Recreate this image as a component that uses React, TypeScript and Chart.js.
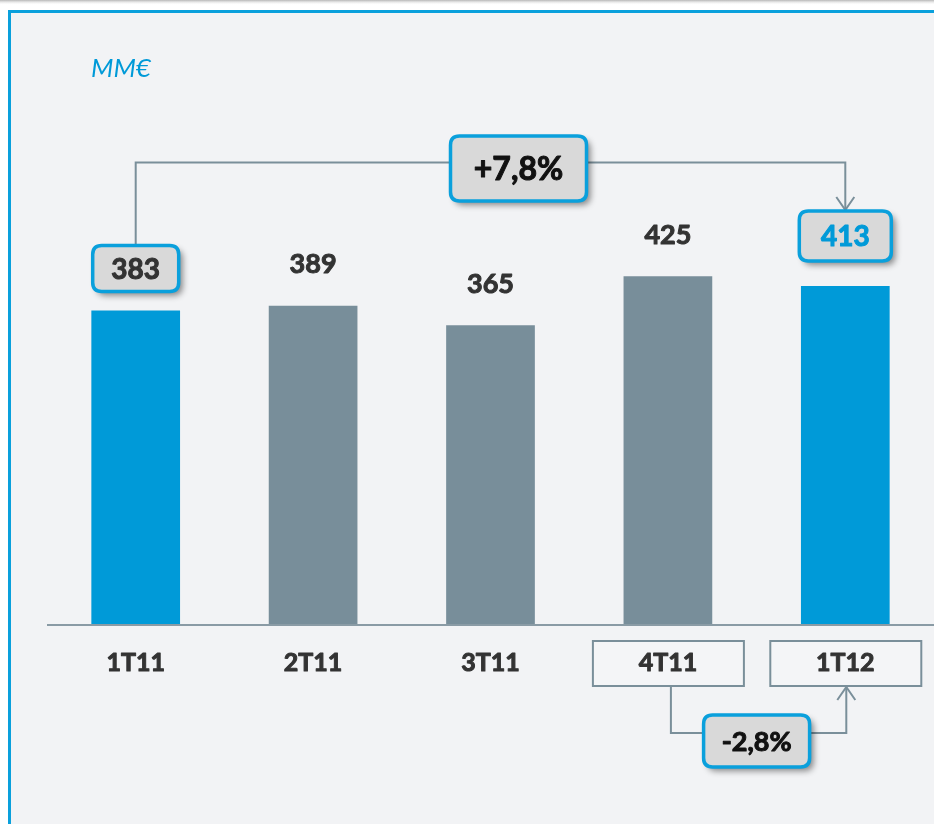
import React, { useEffect, useRef } from "react";
import { Chart, registerables } from "chart.js";

Chart.register(...registerables);

const categories = ["1T11", "2T11", "3T11", "4T11", "1T12"];
const values = [383, 389, 365, 425, 413];
const highlighted = [true, false, false, false, true];
const unitLabel = "MM€";
const yearChangeLabel = "+7,8%";
const quarterChangeLabel = "-2,8%";
const boxedCategories = ["4T11", "1T12"];

const BLUE = "#009ad8";
const GRAY = "#788e9a";
const LINE = "#7a8f9a";
const FONT = "Lato, 'Open Sans', sans-serif";

function roundRect(ctx: CanvasRenderingContext2D, x: number, y: number, w: number, h: number, r: number) {
  ctx.beginPath();
  ctx.moveTo(x + r, y);
  ctx.lineTo(x + w - r, y);
  ctx.quadraticCurveTo(x + w, y, x + w, y + r);
  ctx.lineTo(x + w, y + h - r);
  ctx.quadraticCurveTo(x + w, y + h, x + w - r, y + h);
  ctx.lineTo(x + r, y + h);
  ctx.quadraticCurveTo(x, y + h, x, y + h - r);
  ctx.lineTo(x, y + r);
  ctx.quadraticCurveTo(x, y, x + r, y);
  ctx.closePath();
}

function heavyText(ctx: CanvasRenderingContext2D, text: string, x: number, y: number, size: number, color: string) {
  ctx.save();
  ctx.fillStyle = color;
  ctx.strokeStyle = color;
  ctx.lineWidth = 1;
  ctx.lineJoin = "round";
  ctx.font = `bold ${size}px ${FONT}`;
  ctx.textAlign = "center";
  ctx.textBaseline = "middle";
  ctx.fillText(text, x, y);
  ctx.strokeText(text, x, y);
  ctx.restore();
}

function calloutBox(ctx: CanvasRenderingContext2D, cx: number, cy: number, w: number, h: number, text: string, size: number, color: string) {
  ctx.save();
  ctx.shadowColor = "rgba(0,0,0,0.45)";
  ctx.shadowBlur = 6;
  ctx.shadowOffsetX = 4;
  ctx.shadowOffsetY = 4;
  roundRect(ctx, cx - w / 2, cy - h / 2, w, h, 9);
  ctx.fillStyle = "#d9d9d9";
  ctx.fill();
  ctx.restore();
  ctx.save();
  roundRect(ctx, cx - w / 2, cy - h / 2, w, h, 9);
  ctx.strokeStyle = "#0aa0dc";
  ctx.lineWidth = 3.5;
  ctx.stroke();
  ctx.restore();
  heavyText(ctx, text, cx, cy + 1, size, color);
}

function arrowHead(ctx: CanvasRenderingContext2D, x: number, y: number, dir: number) {
  ctx.beginPath();
  ctx.moveTo(x - 9, y - dir * 13);
  ctx.lineTo(x, y);
  ctx.lineTo(x + 9, y - dir * 13);
  ctx.stroke();
}

const decorPlugin = {
  id: "decor",
  beforeDraw(chart: any) {
    const ctx = chart.ctx as CanvasRenderingContext2D;
    ctx.save();
    ctx.fillStyle = "#ffffff";
    ctx.fillRect(0, 0, chart.width, chart.height);
    const g = ctx.createLinearGradient(0, 0, 0, 5);
    g.addColorStop(0, "rgba(150,150,150,0.7)");
    g.addColorStop(1, "rgba(255,255,255,0)");
    ctx.fillStyle = g;
    ctx.fillRect(0, 0, chart.width, 5);
    ctx.fillStyle = "#f2f3f5";
    ctx.fillRect(10, 12, chart.width - 10, chart.height - 12);
    ctx.fillStyle = "#0aa0dc";
    ctx.fillRect(8, 11, 3, chart.height - 11);
    ctx.fillRect(8, 10, chart.width - 8, 3);
    ctx.fillStyle = BLUE;
    ctx.font = `italic 26px ${FONT}`;
    ctx.textBaseline = "alphabetic";
    ctx.fillText(unitLabel, 91, 77);
    ctx.restore();
  },
  afterDatasetsDraw(chart: any) {
    const ctx = chart.ctx as CanvasRenderingContext2D;
    const x = chart.scales.x;
    const y = chart.scales.y;
    const area = chart.chartArea;
    const base = y.getPixelForValue(0);
    ctx.save();
    // axis line
    ctx.strokeStyle = "#8a9ba5";
    ctx.lineWidth = 2;
    ctx.beginPath();
    ctx.moveTo(area.left, base + 1);
    ctx.lineTo(area.right, base + 1);
    ctx.stroke();

    // category labels
    categories.forEach((c, i) => {
      const cx = x.getPixelForValue(i);
      if (boxedCategories.includes(c)) {
        ctx.fillStyle = "#f4f5f7";
        ctx.fillRect(cx - 75, base + 17, 151, 45);
        ctx.strokeStyle = LINE;
        ctx.lineWidth = 2;
        ctx.strokeRect(cx - 75, base + 17, 151, 45);
      }
      heavyText(ctx, c, cx, base + 39, 25, "#333333");
    });

    // value labels
    const meta = chart.getDatasetMeta(0);
    const first = meta.data[0];
    const last = meta.data[values.length - 1];
    values.forEach((v, i) => {
      const bar = meta.data[i];
      if (i === 0 || i === values.length - 1) return;
      heavyText(ctx, String(v), bar.x, bar.y - 41, 27, "#333333");
    });

    // year-over-year connector
    const topY = first.y - 148;
    ctx.strokeStyle = LINE;
    ctx.lineWidth = 2;
    ctx.beginPath();
    ctx.moveTo(first.x, first.y - 66);
    ctx.lineTo(first.x, topY);
    ctx.lineTo(last.x, topY);
    ctx.lineTo(last.x, last.y - 76);
    ctx.stroke();
    arrowHead(ctx, last.x, last.y - 76, 1);
    calloutBox(ctx, first.x, first.y - 42, 86, 46, String(values[0]), 28, "#333333");
    calloutBox(ctx, last.x, last.y - 50, 92, 50, String(values[values.length - 1]), 28, BLUE);
    calloutBox(ctx, (first.x + last.x) / 2 + 28, topY + 6, 136, 65, yearChangeLabel, 32, "#111111");

    // quarter-over-quarter connector
    const q1 = x.getPixelForValue(3) + 3;
    const q2 = x.getPixelForValue(4) + 1;
    const boxBottom = base + 62;
    const lowY = base + 109;
    ctx.strokeStyle = LINE;
    ctx.lineWidth = 2;
    ctx.beginPath();
    ctx.moveTo(q1, boxBottom);
    ctx.lineTo(q1, lowY);
    ctx.lineTo(q2, lowY);
    ctx.lineTo(q2, boxBottom + 1);
    ctx.stroke();
    arrowHead(ctx, q2, boxBottom + 1, -1);
    calloutBox(ctx, (q1 + q2) / 2 - 2, lowY + 8, 106, 52, quarterChangeLabel, 27, "#111111");
    ctx.restore();
  },
};

export default function App() {
  const ref = useRef<HTMLCanvasElement | null>(null);
  useEffect(() => {
    if (!ref.current) return;
    const chart = new Chart(ref.current, {
      type: "bar",
      data: {
        labels: categories,
        datasets: [
          {
            data: values,
            backgroundColor: highlighted.map((h) => (h ? BLUE : GRAY)),
            borderWidth: 0,
            barPercentage: 0.5,
            categoryPercentage: 1,
          },
        ],
      },
      options: {
        animation: false,
        responsive: false,
        maintainAspectRatio: false,
        devicePixelRatio: 1,
        layout: { padding: { left: 47, right: 0, top: 133, bottom: 200 } },
        plugins: { legend: { display: false }, tooltip: { enabled: false } },
        scales: {
          x: { display: false },
          y: { display: false, min: 0, max: 600 },
        },
      },
      plugins: [decorPlugin],
    });
    return () => chart.destroy();
  }, []);
  return (
    <div style={{ position: "fixed", left: 0, top: 0, width: 934, height: 824 }}>
      <canvas ref={ref} width={934} height={824} style={{ width: 934, height: 824, display: "block" }} />
    </div>
  );
}
